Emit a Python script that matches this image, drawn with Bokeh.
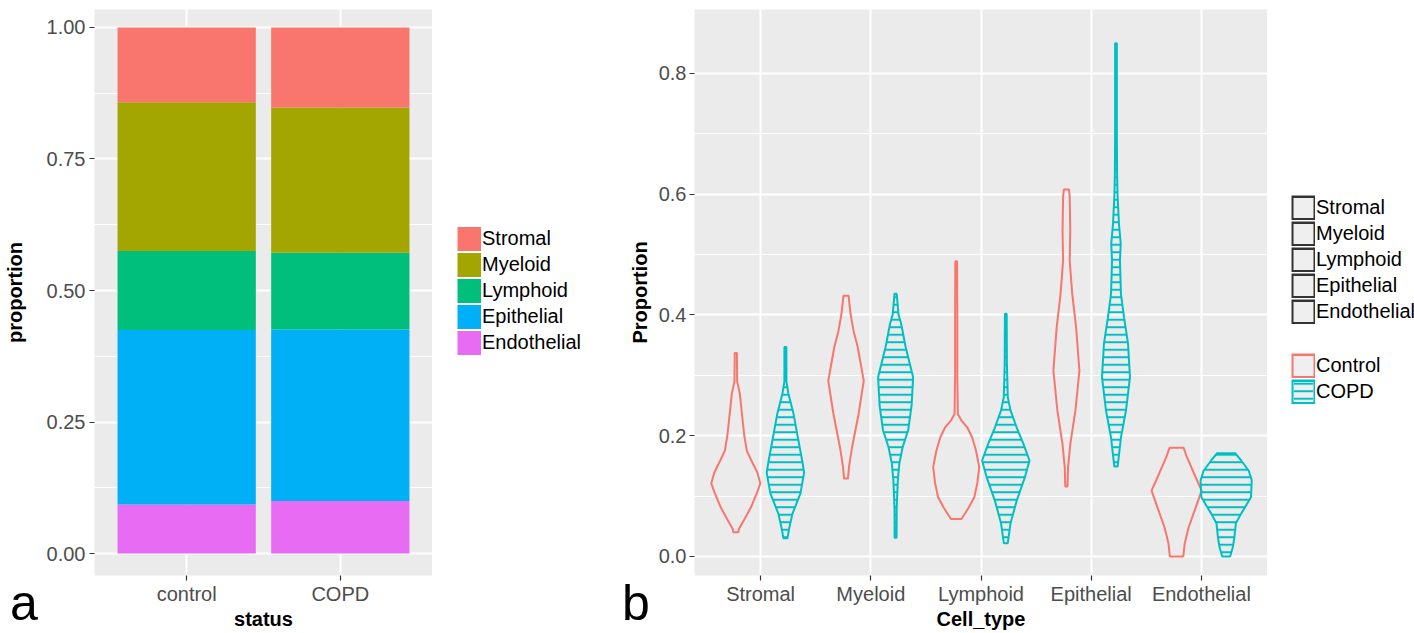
from bokeh.plotting import figure
from bokeh.models import (FactorRange, Range1d, FixedTicker, NumeralTickFormatter,
                          ColumnDataSource, Legend, LegendItem, GridBox, Div)
from bokeh.embed import file_html
from bokeh.resources import INLINE

# ---------------- data: panel a (stacked proportions) ----------------
STATUS = ["control", "COPD"]
CELL_TYPES = ["Stromal", "Myeloid", "Lymphoid", "Epithelial", "Endothelial"]
STROMAL = [0.142, 0.152]
MYELOID = [0.283, 0.276]
LYMPHOID = [0.150, 0.146]
EPITHELIAL = [0.332, 0.326]
ENDOTHELIAL = [0.093, 0.100]

# ---------------- data: panel b (violin outlines: y level, half width) ----------------
STROMAL_CONTROL_Y = [0.040, 0.045, 0.060, 0.081, 0.105, 0.121, 0.139, 0.159, 0.175, 0.200, 0.237, 0.270, 0.290, 0.337]
STROMAL_CONTROL_W = [0.023, 0.027, 0.073, 0.136, 0.191, 0.223, 0.195, 0.141, 0.100, 0.077, 0.055, 0.036, 0.012, 0.010]
STROMAL_COPD_Y = [0.030, 0.048, 0.071, 0.104, 0.139, 0.159, 0.204, 0.237, 0.270, 0.290, 0.347]
STROMAL_COPD_W = [0.018, 0.036, 0.064, 0.136, 0.170, 0.152, 0.106, 0.073, 0.027, 0.009, 0.009]
MYELOID_CONTROL_Y = [0.129, 0.148, 0.181, 0.236, 0.291, 0.347, 0.374, 0.402, 0.432]
MYELOID_CONTROL_W = [0.018, 0.027, 0.055, 0.114, 0.161, 0.106, 0.068, 0.041, 0.023]
MYELOID_COPD_Y = [0.031, 0.080, 0.126, 0.154, 0.181, 0.209, 0.250, 0.297, 0.347, 0.386, 0.400, 0.435]
MYELOID_COPD_W = [0.009, 0.010, 0.020, 0.034, 0.064, 0.114, 0.145, 0.159, 0.091, 0.050, 0.027, 0.010]
LYMPHOID_CONTROL_Y = [0.062, 0.081, 0.098, 0.121, 0.148, 0.176, 0.197, 0.214, 0.226, 0.236, 0.300, 0.400, 0.489]
LYMPHOID_CONTROL_W = [0.048, 0.114, 0.164, 0.191, 0.209, 0.179, 0.145, 0.100, 0.045, 0.015, 0.010, 0.010, 0.008]
LYMPHOID_COPD_Y = [0.022, 0.055, 0.093, 0.131, 0.159, 0.187, 0.214, 0.242, 0.264, 0.320, 0.402]
LYMPHOID_COPD_W = [0.018, 0.043, 0.100, 0.173, 0.215, 0.159, 0.098, 0.043, 0.018, 0.010, 0.008]
EPITHELIAL_CONTROL_Y = [0.116, 0.148, 0.187, 0.242, 0.308, 0.380, 0.435, 0.490, 0.540, 0.595, 0.608]
EPITHELIAL_CONTROL_W = [0.010, 0.015, 0.036, 0.082, 0.118, 0.088, 0.053, 0.030, 0.035, 0.030, 0.023]
EPITHELIAL_COPD_Y = [0.149, 0.197, 0.242, 0.297, 0.353, 0.396, 0.435, 0.490, 0.518, 0.551, 0.600, 0.634, 0.700, 0.850]
EPITHELIAL_COPD_W = [0.015, 0.045, 0.091, 0.127, 0.109, 0.073, 0.045, 0.036, 0.043, 0.027, 0.014, 0.010, 0.008, 0.008]
ENDOTHELIAL_CONTROL_Y = [0.000, 0.021, 0.048, 0.081, 0.109, 0.137, 0.164, 0.180]
ENDOTHELIAL_CONTROL_W = [0.061, 0.073, 0.109, 0.173, 0.227, 0.159, 0.095, 0.064]
ENDOTHELIAL_COPD_Y = [0.000, 0.016, 0.032, 0.055, 0.071, 0.098, 0.126, 0.142, 0.159, 0.171]
ENDOTHELIAL_COPD_W = [0.036, 0.061, 0.075, 0.088, 0.136, 0.225, 0.232, 0.205, 0.136, 0.082]

GROUPS = ["Control", "COPD"]

# ---------------- styles ----------------
FILL = {"Stromal": "#F8766D", "Myeloid": "#A3A500", "Lymphoid": "#00BF7D",
        "Epithelial": "#00B0F6", "Endothelial": "#E76BF3"}
RED, TEAL = "#F8766D", "#00BFC4"
KEY_BG = "#EFEFEF"
FONT = "Liberation Sans"
PANEL_BG = "#EBEBEB"
TOP, BOTTOM, FRAME_H = 9, 58, 566


def style(p):
    p.background_fill_color = PANEL_BG
    p.border_fill_color = "white"
    p.outline_line_color = None
    for ax in p.axis:
        ax.axis_line_color = None
        ax.major_tick_line_color = "#333333"
        ax.major_tick_line_width = 1.2
        ax.major_tick_in = 0
        ax.major_tick_out = 5
        ax.minor_tick_line_color = None
        ax.major_label_text_font = FONT
        ax.major_label_text_font_size = "20px"
        ax.major_label_text_color = "#4D4D4D"
        ax.axis_label_text_font = FONT
        ax.axis_label_text_font_size = "20px"
        ax.axis_label_text_font_style = "bold"
        ax.axis_label_text_color = "black"
    p.xaxis.major_label_standoff = 2
    p.xaxis.axis_label_standoff = 0
    p.yaxis.major_label_standoff = 4
    for g in p.grid:
        g.grid_line_color = "white"
        g.grid_line_width = 2
    p.ygrid.minor_grid_line_color = "white"
    p.ygrid.minor_grid_line_width = 1


def legend_panel(width):
    q = figure(x_range=Range1d(0, 1), y_range=Range1d(0, 1), frame_width=width,
               frame_height=FRAME_H, min_border_left=0, min_border_right=0,
               min_border_top=TOP, min_border_bottom=BOTTOM, title=None,
               x_axis_location=None, y_axis_location=None,
               output_backend="svg", toolbar_location=None)
    q.background_fill_color = "white"
    q.border_fill_color = "white"
    q.outline_line_color = None
    q.grid.visible = False
    return q


def legend(items, loc):
    return Legend(items=items, location=loc, glyph_width=24, glyph_height=25,
                  spacing=1, padding=0, margin=0, label_standoff=1,
                  label_text_font=FONT, label_text_font_size="20px",
                  label_text_color="black", border_line_color=None,
                  background_fill_alpha=0)


def tag(text, left_pad):
    html = ('<div style="padding:578px 0 0 %dpx;font-family:\'Liberation Sans\';'
            'font-size:50px;line-height:40px;color:#000">%s</div>' % (left_pad, text))
    return Div(text=html, width=45, height=633, styles={"overflow": "visible"})


# off-screen anchor for legend key renderers (keeps them out of the visible frame)
KEY_X, KEY_Y = [-9.0, -8.0], [-9.0, -9.0]
KEY_PX, KEY_PY = [[-9.0, -8.0, -8.0]], [[-9.0, -9.0, -8.0]]

# ---------------- panel a ----------------
src_a = ColumnDataSource(dict(status=STATUS, Stromal=STROMAL, Myeloid=MYELOID,
                              Lymphoid=LYMPHOID, Epithelial=EPITHELIAL,
                              Endothelial=ENDOTHELIAL))
p1 = figure(title=None,
            x_range=FactorRange(*STATUS, range_padding=0.1, range_padding_units="absolute"),
            y_range=Range1d(-0.0418, 1.0342), frame_width=338, frame_height=FRAME_H,
            min_border_left=90, min_border_right=0, min_border_top=TOP, min_border_bottom=BOTTOM,
            output_backend="svg", toolbar_location=None)
stack_order = CELL_TYPES[::-1]
p1.vbar_stack(stack_order, x="status", width=0.9, source=src_a,
              fill_color=[FILL[c] for c in stack_order], line_color=None)
p1.yaxis.ticker = FixedTicker(ticks=[0, 0.25, 0.5, 0.75, 1.0],
                              minor_ticks=[0.125, 0.375, 0.625, 0.875])
p1.yaxis.formatter = NumeralTickFormatter(format="0.00")
p1.xaxis.axis_label = "status"
p1.yaxis.axis_label = "proportion"
style(p1)
p1.yaxis.axis_label_standoff = 18

la = legend_panel(179)
items_a = [LegendItem(label=c, renderers=[la.line(x=KEY_X, y=KEY_Y, line_color=FILL[c], line_width=24)])
           for c in CELL_TYPES]
la.add_layout(legend(items_a, (25, 220)))

# ---------------- panel b ----------------
p2 = figure(title=None,
            x_range=FactorRange(*CELL_TYPES, range_padding=0.1, range_padding_units="absolute"),
            y_range=Range1d(-0.0315, 0.906), frame_width=573, frame_height=FRAME_H,
            min_border_left=83, min_border_right=0, min_border_top=TOP, min_border_bottom=BOTTOM,
            output_backend="svg", toolbar_location=None)

violin_y = {"Control": [STROMAL_CONTROL_Y, MYELOID_CONTROL_Y, LYMPHOID_CONTROL_Y,
                        EPITHELIAL_CONTROL_Y, ENDOTHELIAL_CONTROL_Y],
            "COPD": [STROMAL_COPD_Y, MYELOID_COPD_Y, LYMPHOID_COPD_Y,
                     EPITHELIAL_COPD_Y, ENDOTHELIAL_COPD_Y]}
violin_w = {"Control": [STROMAL_CONTROL_W, MYELOID_CONTROL_W, LYMPHOID_CONTROL_W,
                        EPITHELIAL_CONTROL_W, ENDOTHELIAL_CONTROL_W],
            "COPD": [STROMAL_COPD_W, MYELOID_COPD_W, LYMPHOID_COPD_W,
                     EPITHELIAL_COPD_W, ENDOTHELIAL_COPD_W]}
dodge = {"Control": -0.225, "COPD": 0.225}

shapes = {}
for g in GROUPS:
    xs, ys = [], []
    for i, (yv, wv) in enumerate(zip(violin_y[g], violin_w[g])):
        c = i + 0.5 + dodge[g]
        xs.append([c + w for w in wv] + [c - w for w in wv[::-1]])
        ys.append(list(yv) + list(yv[::-1]))
    shapes[g] = ColumnDataSource(dict(xs=xs, ys=ys, cell=CELL_TYPES))

p2.patches("xs", "ys", source=shapes["Control"], fill_color=None,
           line_color=RED, line_width=2)
p2.patches("xs", "ys", source=shapes["COPD"], fill_color=None,
           hatch_pattern="horizontal_line", hatch_color=TEAL, hatch_scale=7.5,
           hatch_weight=2, line_color=TEAL, line_width=2)

p2.yaxis.ticker = FixedTicker(ticks=[0, 0.2, 0.4, 0.6, 0.8], minor_ticks=[0.1, 0.3, 0.5, 0.7])
p2.yaxis.formatter = NumeralTickFormatter(format="0.0")
p2.xaxis.axis_label = "Cell_type"
p2.yaxis.axis_label = "Proportion"
style(p2)
p2.yaxis.axis_label_standoff = 5
p2.yaxis.major_label_standoff = 3

lb = legend_panel(150)


def framed_key(color):
    outer = lb.line(x=KEY_X, y=KEY_Y, line_color=color, line_width=25)
    inner = lb.line(x=KEY_X, y=KEY_Y, line_color=KEY_BG, line_width=20,
                    line_dash="20 4", line_dash_offset=22)
    return [outer, inner]


cell_key = framed_key("#333333")
ctrl_key = framed_key(RED)
copd_key = framed_key(TEAL) + [lb.patches(xs=KEY_PX, ys=KEY_PY, fill_color=None, line_color=None,
                                          hatch_pattern="horizontal_line", hatch_color=TEAL,
                                          hatch_scale=7.5, hatch_weight=2)]
lb.add_layout(legend([LegendItem(label=c, renderers=cell_key) for c in CELL_TYPES], (24, 251)))
lb.add_layout(legend([LegendItem(label=GROUPS[0], renderers=ctrl_key),
                      LegendItem(label=GROUPS[1], renderers=copd_key)], (24, 171)))

layout = GridBox(children=[(p1, 0, 0), (la, 0, 1), (p2, 0, 2), (lb, 0, 3),
                           (tag("a", 5), 0, 0), (tag("b", 6), 0, 2)],
                 spacing=0)
open("out.html", "w").write(file_html(layout, INLINE))
